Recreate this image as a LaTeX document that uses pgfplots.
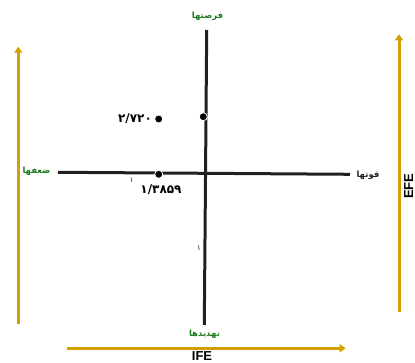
\documentclass[border=0pt]{standalone}
\usepackage{pgfplots}
\pgfplotsset{compat=1.18}
\usepackage{fontspec}
\setmainfont{Liberation Sans}
\newfontfamily\arabicfont[Script=Arabic]{DejaVu Sans}
\usetikzlibrary{arrows.meta}
\TeXXeTstate=1
\definecolor{gold}{HTML}{D4A000}
\definecolor{lblgreen}{HTML}{1E7B1E}
\definecolor{linegray}{HTML}{231F20}

\begin{document}
\begin{tikzpicture}
\begin{axis}[
  width=415pt, height=363pt, scale only axis,
  xmin=0, xmax=415, ymin=0, ymax=363,
  axis lines=none, clip=false,
]
\coordinate (sw) at (axis cs:0,0);
\coordinate (ne) at (axis cs:415,363);
% the two dividing lines
\addplot[linegray, line width=3pt] coordinates {(58,190.7) (350,188.7)};
\addplot[linegray, line width=3pt] coordinates {(206.7,333) (204.3,38)};
% gold arrows
\addplot[gold, line width=3pt, -{Triangle[length=6pt,width=8pt]}] coordinates {(18.3,39) (18.3,316.3)};
\addplot[gold, line width=3pt, -{Triangle[length=6pt,width=8pt]}] coordinates {(399,51.3) (399,328.7)};
\addplot[gold, line width=3pt, -{Triangle[length=6pt,width=8pt]}] coordinates {(66.7,14.7) (345.7,14.7)};
% points
\addplot[only marks, mark=*, mark size=4pt, mark options={fill=black, draw=white, line width=0.8pt}]
  coordinates {(158.7,244) (203.3,246.3) (158.7,188.7)};
% values
\node[font=\arabicfont\bfseries\fontsize{12}{12}\selectfont] at (axis cs:135,244) {۲/۷۲۰};
\node[font=\arabicfont\bfseries\fontsize{12}{12}\selectfont] at (axis cs:161,173) {۱/۳۸۵۹};
\node[linegray, font=\arabicfont\fontsize{7.5}{7.5}\selectfont] at (axis cs:131.7,183) {۱};
\node[linegray, font=\arabicfont\fontsize{7.5}{7.5}\selectfont] at (axis cs:199,115.3) {۱};
% quadrant labels
\node[lblgreen, font=\arabicfont\bfseries\fontsize{8.5}{8.5}\selectfont] at (axis cs:207.5,346.5) {\beginR فرصتها\endR};
\node[lblgreen, font=\arabicfont\bfseries\fontsize{8.5}{8.5}\selectfont] at (axis cs:204.5,28.7) {\beginR تهدیدها\endR};
\node[lblgreen, font=\arabicfont\bfseries\fontsize{8.5}{8.5}\selectfont] at (axis cs:36.5,191.3) {\beginR ضعفها\endR};
\node[linegray, font=\arabicfont\bfseries\fontsize{8.5}{8.5}\selectfont] at (axis cs:368,188) {\beginR قوتها\endR};
% axis names
\node[anchor=base, font=\bfseries\fontsize{13}{13}\selectfont] at (axis cs:202,2.5) {IFE};
\node[anchor=base, rotate=90, font=\bfseries\fontsize{13}{13}\selectfont] at (axis cs:413,176.7) {EFE};
\end{axis}
\pgfresetboundingbox
\useasboundingbox (sw) rectangle (ne);
\end{tikzpicture}
\end{document}
